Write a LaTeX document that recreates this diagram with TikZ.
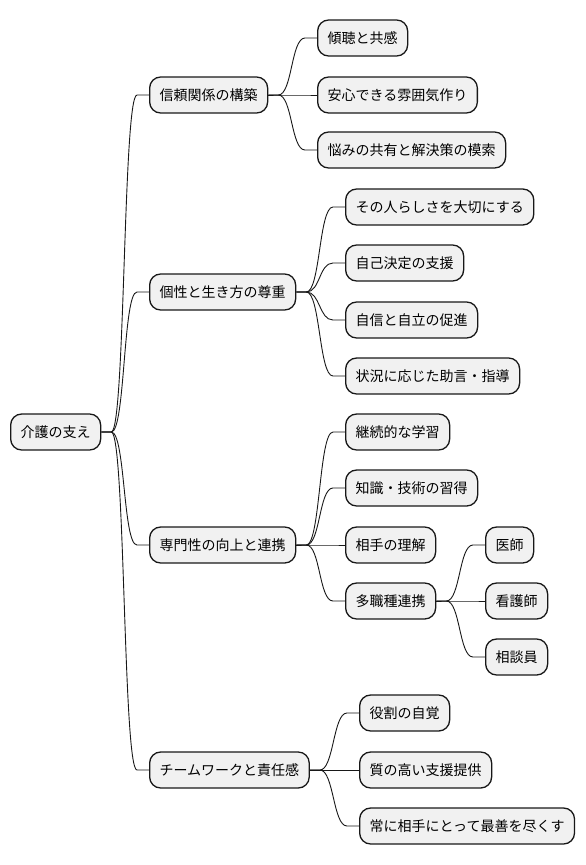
\documentclass[tikz,border=0pt]{standalone}
\usepackage{fontspec}
\setmainfont{Noto Sans CJK JP}
\usepackage{tikz}
\definecolor{mapFill}{HTML}{F1F1F1}
\definecolor{mapLine}{HTML}{181818}
\usetikzlibrary{positioning}

\begin{document}
\begin{tikzpicture}[
    x=1pt, y=-1pt,
    topic/.style={rectangle, rounded corners=11pt, draw=mapLine, line width=1.3pt, fill=mapFill, minimum height=36pt, inner xsep=10pt, anchor=west, font=\fontsize{14pt}{17pt}\selectfont},
    branch/.style={draw=mapLine, line width=0.9pt}
]
    \useasboundingbox (0,0) rectangle (586,865);

    \node[topic] (care) at (10,432) {介護の支え};

    \node[topic] (trust) at (149,95) {信頼関係の構築};
    \node[topic] (listen) at (317,38) {傾聴と共感};
    \node[topic] (safe) at (317,95) {安心できる雰囲気作り};
    \node[topic] (worry) at (317,150) {悩みの共有と解決策の模索};

    \node[topic] (indiv) at (149,292) {個性と生き方の尊重};
    \node[topic] (self) at (345,207) {その人らしさを大切にする};
    \node[topic] (decide) at (345,263) {自己決定の支援};
    \node[topic] (indep) at (345,320) {自信と自立の促進};
    \node[topic] (advice) at (345,376) {状況に応じた助言・指導};

    \node[topic] (expert) at (149,545) {専門性の向上と連携};
    \node[topic] (learn) at (345,432) {継続的な学習};
    \node[topic] (skill) at (345,488) {知識・技術の習得};
    \node[topic] (under) at (345,545) {相手の理解};
    \node[topic] (multi) at (345,601) {多職種連携};
    \node[topic] (doctor) at (485,545) {医師};
    \node[topic] (nurse) at (485,601) {看護師};
    \node[topic] (counsel) at (485,657) {相談員};

    \node[topic] (team) at (149,770) {チームワークと責任感};
    \node[topic] (role) at (359,713) {役割の自覚};
    \node[topic] (quality) at (359,770) {質の高い支援提供};
    \node[topic] (best) at (359,826) {常に相手にとって最善を尽くす};

    \foreach \from/\to in {care/trust, care/indiv, care/expert, care/team,
        trust/listen, trust/safe, trust/worry,
        indiv/self, indiv/decide, indiv/indep, indiv/advice,
        expert/learn, expert/skill, expert/under, expert/multi,
        multi/doctor, multi/nurse, multi/counsel,
        team/role, team/quality, team/best}
        \draw[branch] (\from.east) -- ++(10,0) .. controls +(14,0) and +(-14,0) .. ([xshift=-12pt]\to.west) -- (\to.west);
\end{tikzpicture}
\end{document}
